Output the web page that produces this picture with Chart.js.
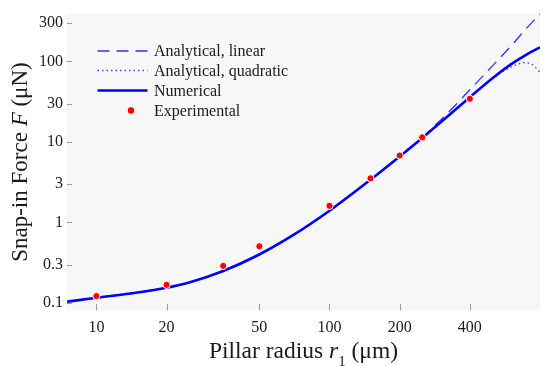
<!DOCTYPE html>
<html>
<head>
<meta charset="utf-8">
<script src="https://cdn.jsdelivr.net/npm/chart.js@4.4.1/dist/chart.umd.min.js"></script>
<style>
html,body{margin:0;padding:0;background:#fff}
#wrap{width:545px;height:366px;position:relative}
</style>
</head>
<body>
<div id="wrap"><canvas id="ch"></canvas></div>
<script>
// pillar radius r1 (um) -> snap-in force F (uN)
const numR   = [7.5, 10, 15, 20, 25, 35, 50, 70, 100, 150, 200, 250, 300, 400, 500, 600, 700, 800];
const numF   = [0.104, 0.116, 0.135, 0.155, 0.18, 0.25, 0.40, 0.70, 1.40, 3.4, 6.6, 11.2, 17.6, 36, 62, 92, 122, 150];
const linR   = [7.5, 10, 15, 20, 25, 35, 50, 70, 100, 150, 200, 250, 300, 350, 400, 500, 600, 700, 800];
const linF   = [0.104, 0.116, 0.135, 0.155, 0.18, 0.25, 0.40, 0.70, 1.40, 3.4, 6.6, 11.3, 18.8, 29.4, 44.5, 88, 155, 258, 388];
const quadR  = [7.5, 10, 15, 20, 25, 35, 50, 70, 100, 150, 200, 250, 300, 400, 500, 550, 600, 650, 690, 725, 757, 780, 800];
const quadF  = [0.104, 0.116, 0.135, 0.155, 0.18, 0.25, 0.40, 0.70, 1.40, 3.4, 6.6, 11.2, 17.6, 36, 61, 74, 85, 93.5, 97, 94, 87, 80, 73.5];
const expR   = [10, 20, 35, 50, 100, 150, 200, 250, 400];
const expF   = [0.122, 0.168, 0.289, 0.507, 1.61, 3.54, 6.79, 11.4, 34.4];
const xTicks = [10, 20, 50, 100, 200, 400];
const yTicks = [0.1, 0.3, 1, 3, 10, 30, 100, 300];

const SERIF = "'Liberation Serif','Times New Roman',serif";
const pts = (rs, fs) => rs.map((r, i) => ({x: r, y: fs[i]}));

// light grey plot box + short inward tick marks
const plotBox = {
  id: 'plotBox',
  beforeDraw(c) {
    const a = c.chartArea, g = c.ctx;
    g.save(); g.fillStyle = '#f7f7f7';
    g.fillRect(a.left, a.top, a.right - a.left, a.bottom - a.top);
    g.restore();
  },
  beforeDatasetsDraw(c) {
    const a = c.chartArea, g = c.ctx, sx = c.scales.x, sy = c.scales.y;
    g.save(); g.strokeStyle = '#9a9a9a'; g.lineWidth = 1;
    g.beginPath();
    xTicks.forEach(v => { const p = Math.round(sx.getPixelForValue(v)) + 0.5; g.moveTo(p, a.bottom); g.lineTo(p, a.bottom - 6.5); });
    yTicks.forEach(v => { const p = Math.round(sy.getPixelForValue(v)) + 0.5; g.moveTo(a.left, p); g.lineTo(a.left + 5, p); });
    g.stroke(); g.restore();
  }
};

// text runs with italic / subscript parts
function runs(g, parts, x, y) {
  let w = 0;
  parts.forEach(p => { g.font = p.f; w += g.measureText(p.t).width; });
  let cx = x - w / 2;
  parts.forEach(p => { g.font = p.f; g.fillText(p.t, cx, y + (p.dy || 0)); cx += g.measureText(p.t).width; });
}

const titles = {
  id: 'titles',
  afterDraw(c) {
    const a = c.chartArea, g = c.ctx;
    g.save(); g.fillStyle = '#1a1a1a'; g.textBaseline = 'alphabetic'; g.textAlign = 'left';
    runs(g, [
      {t: 'Pillar radius ', f: '23.5px ' + SERIF},
      {t: 'r', f: 'italic 23.5px ' + SERIF},
      {t: '1', f: '15px ' + SERIF, dy: 8},
      {t: ' (\u03bcm)', f: '23.5px ' + SERIF}
    ], (a.left + a.right) / 2, 358);
    g.translate(27.3, (a.top + a.bottom) / 2);
    g.rotate(-Math.PI / 2);
    runs(g, [
      {t: 'Snap-in Force ', f: '23px ' + SERIF},
      {t: 'F', f: 'italic 23px ' + SERIF},
      {t: ' (\u03bcN)', f: '23px ' + SERIF}
    ], 0, 0);
    g.restore();
  }
};

// legend inside the plot, top left
const boxLegend = {
  id: 'boxLegend',
  afterDraw(c) {
    const g = c.ctx;
    const order = ['Analytical, linear', 'Analytical, quadratic', 'Numerical', 'Experimental'];
    const rows = [51, 70.5, 90.5, 110.5];
    g.save();
    order.forEach((lab, i) => {
      const ds = c.data.datasets.find(d => d.label === lab);
      const y = rows[i];
      if (ds.showLine === false) {
        g.beginPath(); g.arc(131, y, 3.2, 0, Math.PI * 2);
        g.fillStyle = ds.pointBackgroundColor; g.fill();
      } else {
        g.beginPath(); g.setLineDash(ds.borderDash || []);
        g.strokeStyle = ds.borderColor; g.lineWidth = ds.borderWidth;
        g.moveTo(97.5, y); g.lineTo(147.5, y); g.stroke();
        g.setLineDash([]);
      }
      g.fillStyle = '#1a1a1a'; g.font = '16px ' + SERIF; g.textBaseline = 'alphabetic';
      g.fillText(lab, 154, y + 5);
    });
    g.restore();
  }
};

new Chart(document.getElementById('ch'), {
  type: 'line',
  data: {
    datasets: [
      {label: 'Experimental', data: pts(expR, expF), showLine: false, pointRadius: 3.6,
       pointBackgroundColor: '#ff0000', pointBorderColor: '#ffffff', pointBorderWidth: 1, order: 0},
      {label: 'Numerical', data: pts(numR, numF), borderColor: '#0000ff', borderWidth: 2.6,
       pointRadius: 0, cubicInterpolationMode: 'monotone', order: 1},
      {label: 'Analytical, quadratic', data: pts(quadR, quadF), borderColor: '#4646ff', borderWidth: 1.4,
       borderDash: [1.5, 3], pointRadius: 0, cubicInterpolationMode: 'monotone', order: 2},
      {label: 'Analytical, linear', data: pts(linR, linF), borderColor: '#3030ff', borderWidth: 1.3,
       borderDash: [12, 7], pointRadius: 0, cubicInterpolationMode: 'monotone', order: 3}
    ]
  },
  options: {
    responsive: true, maintainAspectRatio: false, animation: false,
    layout: {padding: {top: 12.7, right: 0, left: 0, bottom: 0}},
    plugins: {legend: {display: false}, tooltip: {enabled: false}},
    scales: {
      x: {
        type: 'logarithmic', min: 7.48, max: 800,
        border: {display: false}, grid: {display: false, drawTicks: false},
        afterBuildTicks: s => { s.ticks = xTicks.map(v => ({value: v})); },
        afterFit: s => { s.height = 55.5; },
        ticks: {autoSkip: false, maxRotation: 0, padding: 8, color: '#1a1a1a',
                font: {family: SERIF, size: 16}, callback: v => String(v)}
      },
      y: {
        type: 'logarithmic', min: 0.0807, max: 393,
        border: {display: false}, grid: {display: false, drawTicks: false},
        afterBuildTicks: s => { s.ticks = yTicks.map(v => ({value: v})); },
        afterFit: s => { s.width = 67; },
        ticks: {autoSkip: false, padding: 4, color: '#1a1a1a',
                font: {family: SERIF, size: 16}, callback: v => String(v)}
      }
    }
  },
  plugins: [plotBox, titles, boxLegend]
});
</script>
</body>
</html>
